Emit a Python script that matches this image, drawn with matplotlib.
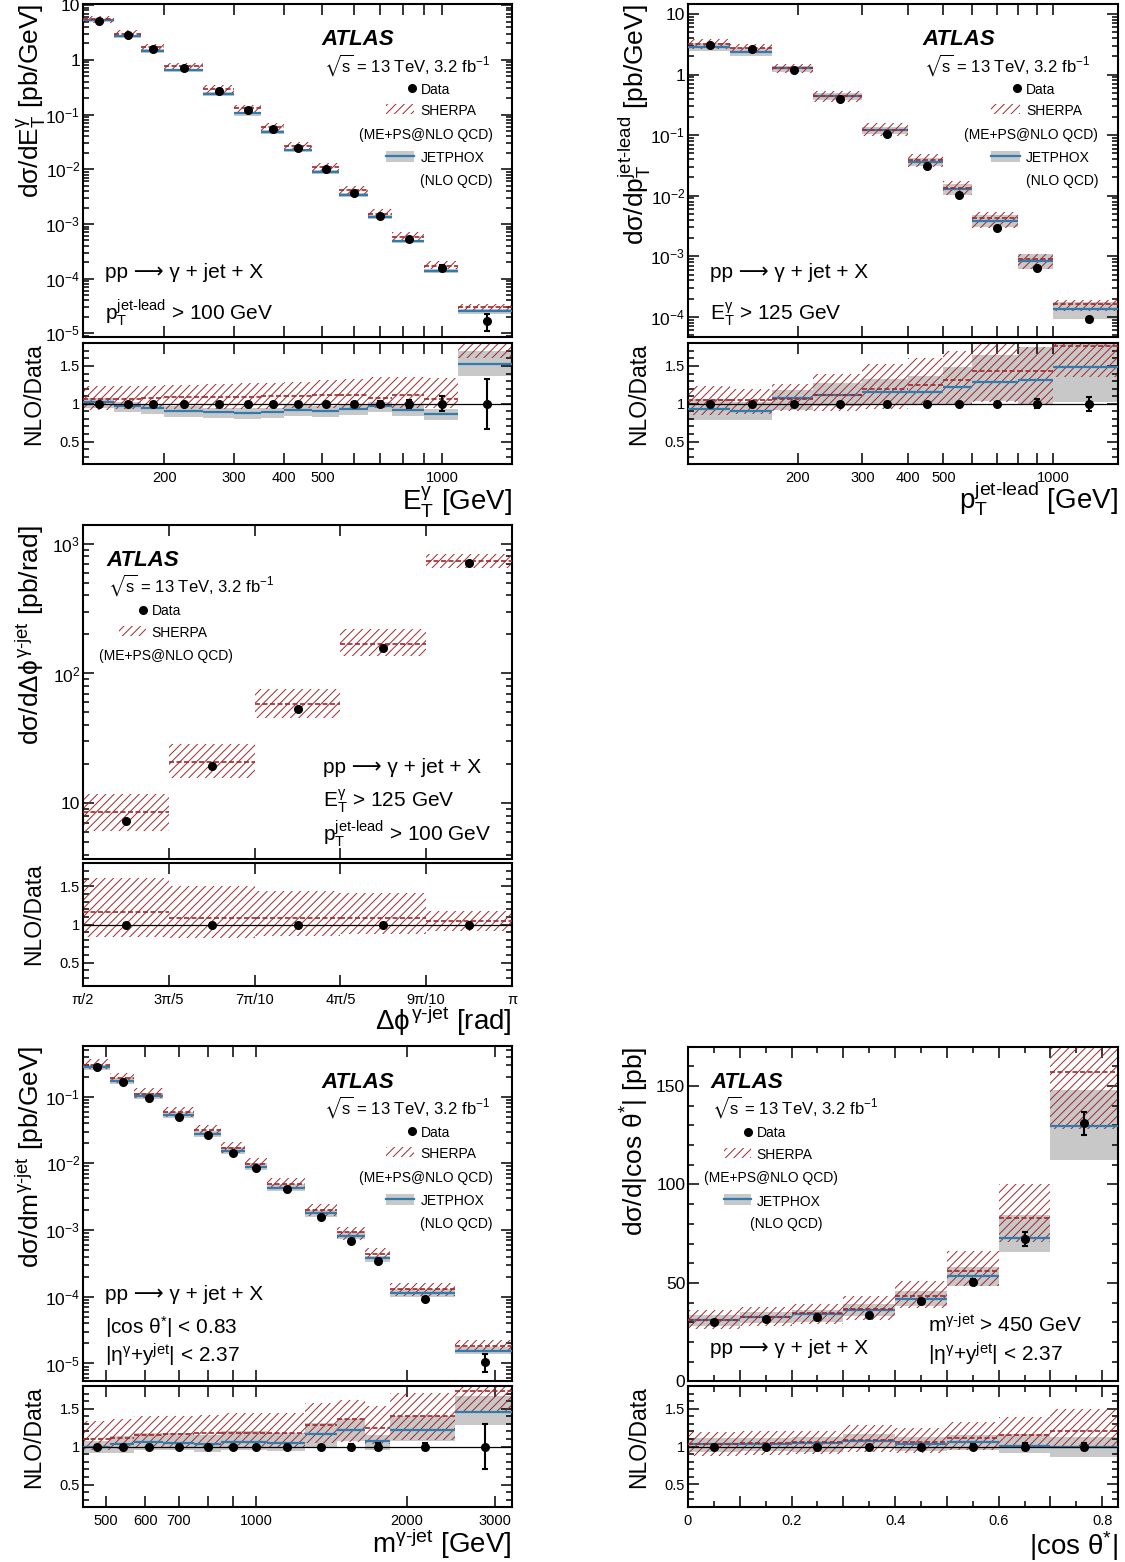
import numpy as np
import matplotlib
matplotlib.use("Agg")
import matplotlib.pyplot as plt
from matplotlib import ticker
from matplotlib.patches import Rectangle

plt.rcParams["font.family"] = ["Liberation Sans", "DejaVu Sans"]
plt.rcParams["mathtext.fontset"] = "custom"
plt.rcParams["mathtext.rm"] = "Liberation Sans"
plt.rcParams["mathtext.it"] = "Liberation Sans"
plt.rcParams["mathtext.sf"] = "Liberation Sans"
plt.rcParams["mathtext.bf"] = "Liberation Sans:bold"
plt.rcParams["mathtext.fallback"] = "stixsans"
plt.rcParams["hatch.linewidth"] = 0.7

RED = "#a3262a"
GREY = "#c8c8c8"
BLUE = "#2f7cb0"
HATCH = "////"

# ---- E_T^gamma ----
et_edges = [125, 150, 175, 200, 250, 300, 350, 400, 470, 550, 650, 750, 900, 1100, 1500]
et_data = [5.2, 2.8, 1.56, 0.71, 0.27, 0.119, 0.054, 0.0244, 0.0100, 0.0037, 0.00141, 0.00053, 0.000160, 1.67e-5]
et_err = [0.02, 0.02, 0.02, 0.02, 0.02, 0.02, 0.02, 0.02, 0.02, 0.03, 0.04, 0.05, 0.10, 0.33]
et_jp = [1.02, 0.97, 0.94, 0.91, 0.89, 0.88, 0.89, 0.92, 0.91, 0.93, 0.97, 0.92, 0.87, 1.53]
et_jp_lo = [0.94, 0.89, 0.86, 0.83, 0.81, 0.80, 0.81, 0.84, 0.83, 0.85, 0.89, 0.84, 0.79, 1.37]
et_jp_hi = [1.08, 1.03, 1.00, 0.97, 0.95, 0.94, 0.95, 0.98, 0.97, 0.99, 1.03, 0.98, 0.93, 1.70]
et_sh = [1.07, 1.07, 1.08, 1.09, 1.09, 1.09, 1.10, 1.10, 1.11, 1.11, 1.08, 1.11, 1.06, 1.85]
et_sh_lo = [0.92, 0.93, 0.93, 0.93, 0.93, 0.93, 0.93, 0.94, 0.94, 0.95, 0.95, 0.95, 0.94, 1.60]
et_sh_hi = [1.23, 1.23, 1.24, 1.25, 1.26, 1.27, 1.28, 1.29, 1.31, 1.33, 1.36, 1.35, 1.34, 2.10]

# ---- p_T^jet-lead ----
pt_edges = [100, 130, 170, 220, 300, 400, 500, 600, 800, 1000, 1500]
pt_data = [3.07, 2.64, 1.19, 0.39, 0.104, 0.0305, 0.0104, 0.00292, 0.00063, 9.1e-5]
pt_err = [0.02, 0.02, 0.02, 0.02, 0.02, 0.02, 0.03, 0.03, 0.06, 0.09]
pt_jp = [0.93, 0.90, 1.075, 1.12, 1.15, 1.16, 1.22, 1.29, 1.31, 1.49]
pt_jp_lo = [0.79, 0.78, 0.92, 0.97, 1.00, 1.00, 0.99, 1.04, 0.99, 1.02]
pt_jp_hi = [1.06, 1.02, 1.18, 1.28, 1.33, 1.37, 1.48, 1.64, 1.75, 1.95]
pt_sh = [1.05, 1.05, 1.07, 1.12, 1.19, 1.25, 1.31, 1.44, 1.44, 1.76]
pt_sh_lo = [0.85, 0.87, 0.90, 0.91, 0.93, 0.99, 1.00, 1.02, 0.99, 1.35]
pt_sh_hi = [1.24, 1.20, 1.26, 1.39, 1.52, 1.60, 1.70, 1.85, 1.75, 2.10]

# ---- delta phi ----
dphi_edges = [np.pi / 2, 3 * np.pi / 5, 7 * np.pi / 10, 4 * np.pi / 5, 9 * np.pi / 10, np.pi]
dphi_labels = ["π/2", "3π/5", "7π/10", "4π/5", "9π/10", "π"]
dphi_data = [7.3, 19.2, 53, 156, 707]
dphi_err = [0.02, 0.02, 0.02, 0.02, 0.02]
dphi_sh = [1.164, 1.09, 1.09, 1.09, 1.045]
dphi_sh_lo = [0.84, 0.82, 0.85, 0.87, 0.92]
dphi_sh_hi = [1.61, 1.50, 1.44, 1.41, 1.18]

# ---- m^gamma-jet ----
m_edges = [450, 510, 570, 650, 750, 850, 950, 1050, 1250, 1450, 1650, 1850, 2500, 3250]
m_data = [0.276, 0.168, 0.0967, 0.050, 0.0266, 0.0145, 0.0084, 0.0041, 0.00155, 0.00068, 0.00035, 9.3e-5, 1.06e-5]
m_err = [0.02, 0.02, 0.02, 0.02, 0.02, 0.02, 0.02, 0.02, 0.02, 0.04, 0.05, 0.05, 0.30]
m_jp = [1.00, 1.03, 1.06, 1.05, 1.035, 1.06, 1.06, 1.05, 1.17, 1.22, 1.075, 1.22, 1.455]
m_jp_lo = [0.92, 0.92, 0.95, 0.95, 0.93, 0.95, 0.95, 0.94, 1.00, 1.08, 0.96, 1.08, 1.29]
m_jp_hi = [1.07, 1.14, 1.18, 1.18, 1.16, 1.20, 1.20, 1.18, 1.31, 1.36, 1.16, 1.40, 1.67]
m_sh = [1.10, 1.12, 1.15, 1.17, 1.18, 1.18, 1.18, 1.18, 1.29, 1.36, 1.25, 1.40, 1.73]
m_sh_lo = [0.95, 0.97, 0.99, 1.00, 1.00, 1.00, 1.00, 1.00, 1.05, 1.06, 1.04, 1.09, 1.45]
m_sh_hi = [1.34, 1.36, 1.40, 1.40, 1.42, 1.45, 1.45, 1.45, 1.58, 1.62, 1.54, 1.71, 2.10]

# ---- |cos theta*| ----
cos_edges = [0, 0.1, 0.2, 0.3, 0.4, 0.5, 0.6, 0.7, 0.83]
cos_data = [30.3, 31.5, 32.5, 33.7, 40.8, 50.3, 72.1, 131.0]
cos_err = [0.02, 0.02, 0.02, 0.02, 0.02, 0.03, 0.05, 0.045]
cos_jp = [1.035, 1.035, 1.05, 1.075, 1.03, 1.06, 1.01, 0.99]
cos_jp_lo = [0.93, 0.94, 0.93, 0.98, 0.94, 0.96, 0.91, 0.86]
cos_jp_hi = [1.11, 1.11, 1.12, 1.17, 1.12, 1.15, 1.17, 1.13]
cos_sh = [1.03, 1.04, 1.065, 1.09, 1.065, 1.11, 1.15, 1.20]
cos_sh_lo = [0.88, 0.89, 0.90, 0.93, 0.91, 0.96, 0.98, 0.98]
cos_sh_hi = [1.19, 1.20, 1.21, 1.28, 1.25, 1.32, 1.39, 1.49]

PROCESS = "pp ⟶ γ + jet + X"

W, H = 1125, 1562
fig = plt.figure(figsize=(W / 100, H / 100), dpi=100)


def box(x0, y0, x1, y1):
    return fig.add_axes([x0 / W, 1 - y1 / H, (x1 - x0) / W, (y1 - y0) / H])


def style(ax):
    for sp in ax.spines.values():
        sp.set_linewidth(1.5)
    ax.tick_params(which="both", direction="in", top=True, right=True, width=1.1)
    ax.tick_params(which="major", length=8)
    ax.tick_params(which="minor", length=4)


def log_label(v, pos):
    e = int(round(np.log10(v)))
    if e == 0:
        return "1"
    if e == 1:
        return "10"
    return r"$10^{%d}$" % e


def panel(mbox, rbox, edges, data, err, sh, sh_lo, sh_hi, jp=None, jp_lo=None, jp_hi=None):
    edges = np.asarray(edges, float)
    left, right = edges[:-1], edges[1:]
    width = np.diff(edges)
    centers = 0.5 * (left + right)
    data = np.asarray(data, float)
    err = np.asarray(err, float)
    axm, axr = box(*mbox), box(*rbox)
    for ax, scale in ((axm, data), (axr, np.ones_like(data))):
        if jp is not None:
            lo, hi = np.asarray(jp_lo) * scale, np.asarray(jp_hi) * scale
            ax.bar(left, hi - lo, width, bottom=lo, align="edge", color=GREY, lw=0, zorder=1)
        lo, hi = np.asarray(sh_lo) * scale, np.asarray(sh_hi) * scale
        ax.bar(left, hi - lo, width, bottom=lo, align="edge", facecolor="none",
               edgecolor=RED, hatch=HATCH, lw=0, zorder=2)
        if jp is not None:
            ax.hlines(np.asarray(jp) * scale, left, right, color=BLUE, lw=1.6, zorder=3)
        ax.hlines(np.asarray(sh) * scale, left, right, color=RED, lw=1.2,
                  linestyles=(0, (3, 1.5)), zorder=3)
        if ax is axr:
            ax.axhline(1, color="k", lw=0.9, zorder=3.5)
        ax.errorbar(centers, scale, yerr=scale * err, fmt="o", color="k", ms=5.5,
                    elinewidth=1.5, capsize=2, capthick=1.5, zorder=4)
        ax.set_xlim(edges[0], edges[-1])
        style(ax)
    axr.set_ylim(0.2, 1.8)
    axr.yaxis.set_major_locator(ticker.MultipleLocator(0.5))
    axr.yaxis.set_minor_locator(ticker.MultipleLocator(0.1))
    axr.yaxis.set_major_formatter(ticker.FuncFormatter(lambda v, p: "%g" % v))
    axr.tick_params(axis="y", labelsize=10.5, pad=2)
    axr.tick_params(axis="x", labelsize=10.5, pad=5)
    axm.tick_params(axis="x", labelbottom=False)
    axm.tick_params(axis="y", labelsize=12.5, pad=2)
    axr.text(-0.10, 1.0, "NLO/Data", rotation=90, rotation_mode="anchor", ha="right",
             va="baseline", fontsize=16.5, transform=axr.transAxes)
    return axm, axr


def log_x(axes, ticks, labels):
    for ax in axes:
        ax.set_xscale("log")
        ax.xaxis.set_major_locator(ticker.FixedLocator(ticks))
        ax.xaxis.set_minor_locator(ticker.NullLocator())
        ax.xaxis.set_major_formatter(ticker.FixedFormatter(
            [str(t) if t in labels else "" for t in ticks]))


def log_y(ax, lo, hi):
    ax.set_yscale("log")
    ax.set_ylim(lo, hi)
    ax.yaxis.set_major_locator(ticker.LogLocator(base=10, numticks=20))
    ax.yaxis.set_minor_locator(ticker.LogLocator(base=10, subs=np.arange(2, 10), numticks=20))
    ax.yaxis.set_minor_formatter(ticker.NullFormatter())
    ax.yaxis.set_major_formatter(ticker.FuncFormatter(log_label))


def titles(axm, axr, ylab, xlab, xlab_y):
    axm.text(-0.103, 1.0, ylab, rotation=90, rotation_mode="anchor", ha="right",
             va="baseline", fontsize=19, transform=axm.transAxes)
    axr.text(1.0, xlab_y, xlab, ha="right", va="baseline", fontsize=20, transform=axr.transAxes)


def header(ax, x, y_atlas, y_lumi):
    ax.text(x, y_atlas, "ATLAS", fontsize=16, fontweight="bold", fontstyle="italic",
            transform=ax.transAxes, va="baseline")
    ax.text(x + 0.004, y_lumi, r"$\sqrt{\mathrm{s}}$ = 13 TeV, 3.2 fb$^{-1}$", fontsize=12,
            transform=ax.transAxes, va="baseline")


def legend_right(ax, with_jp=True):
    t = ax.transAxes
    ax.plot([0.766], [0.747], "o", color="k", ms=5.5, transform=t, clip_on=False)
    ax.text(0.787, 0.729, "Data", fontsize=10, transform=t, va="baseline")
    ax.add_patch(Rectangle((0.706, 0.670), 0.066, 0.030, transform=t, facecolor="none",
                           edgecolor=RED, hatch=HATCH, lw=0))
    ax.text(0.787, 0.667, "SHERPA", fontsize=10, transform=t, va="baseline")
    ax.text(0.955, 0.595, "(ME+PS@NLO QCD)", fontsize=10, transform=t, va="baseline", ha="right")
    if with_jp:
        ax.add_patch(Rectangle((0.706, 0.527), 0.066, 0.033, transform=t, color=GREY, lw=0))
        ax.plot([0.706, 0.772], [0.543, 0.543], color=BLUE, lw=1.6, transform=t)
        ax.text(0.787, 0.527, "JETPHOX", fontsize=10, transform=t, va="baseline")
        ax.text(0.955, 0.456, "(NLO QCD)", fontsize=10, transform=t, va="baseline", ha="right")


def legend_left(ax, with_jp=True):
    t = ax.transAxes
    ax.plot([0.140], [0.746], "o", color="k", ms=5.5, transform=t)
    ax.text(0.160, 0.730, "Data", fontsize=10, transform=t, va="baseline")
    ax.add_patch(Rectangle((0.083, 0.667), 0.063, 0.030, transform=t, facecolor="none",
                           edgecolor=RED, hatch=HATCH, lw=0))
    ax.text(0.160, 0.665, "SHERPA", fontsize=10, transform=t, va="baseline")
    ax.text(0.038, 0.596, "(ME+PS@NLO QCD)", fontsize=10, transform=t, va="baseline")
    if with_jp:
        ax.add_patch(Rectangle((0.083, 0.528), 0.063, 0.033, transform=t, color=GREY, lw=0))
        ax.plot([0.083, 0.146], [0.544, 0.544], color=BLUE, lw=1.6, transform=t)
        ax.text(0.160, 0.525, "JETPHOX", fontsize=10, transform=t, va="baseline")
        ax.text(0.145, 0.457, "(NLO QCD)", fontsize=10, transform=t, va="baseline")


def note(ax, x, y, s, size=15):
    ax.text(x, y, s, fontsize=size, transform=ax.transAxes, va="baseline")


LX0, LX1, RX0, RX1 = 83, 512, 688, 1117.7

# panel 1: E_T^gamma
a1, r1 = panel((LX0, 4, LX1, 337.3), (LX0, 343.3, LX1, 464.3), et_edges, et_data, et_err,
               et_sh, et_sh_lo, et_sh_hi, et_jp, et_jp_lo, et_jp_hi)
log_x((a1, r1), [200, 300, 400, 500, 600, 700, 800, 900, 1000], [200, 300, 400, 500, 1000])
log_y(a1, 8.5e-6, 10.5)
titles(a1, r1, r"d$\sigma$/d$\mathrm{E}_\mathrm{T}^{\gamma}$ [pb/GeV]",
       r"$\mathrm{E}_\mathrm{T}^{\gamma}$ [GeV]", -0.378)
header(a1, 0.557, 0.877, 0.797)
legend_right(a1)
note(a1, 0.051, 0.177, PROCESS)
note(a1, 0.051, 0.052, r"$\mathrm{p}_\mathrm{T}^\mathrm{jet\text{-}lead}$ > 100 GeV")

# panel 2: p_T^jet-lead
a2, r2 = panel((RX0, 4, RX1, 337.3), (RX0, 343.3, RX1, 464.3), pt_edges, pt_data, pt_err,
               pt_sh, pt_sh_lo, pt_sh_hi, pt_jp, pt_jp_lo, pt_jp_hi)
log_x((a2, r2), [200, 300, 400, 500, 600, 700, 800, 900, 1000], [200, 300, 400, 500, 1000])
log_y(a2, 4.6e-5, 14.6)
titles(a2, r2, r"d$\sigma$/d$\mathrm{p}_\mathrm{T}^\mathrm{jet\text{-}lead}$ [pb/GeV]",
       r"$\mathrm{p}_\mathrm{T}^\mathrm{jet\text{-}lead}$ [GeV]", -0.364)
header(a2, 0.545, 0.877, 0.797)
legend_right(a2)
note(a2, 0.051, 0.177, PROCESS)
note(a2, 0.051, 0.052, r"$\mathrm{E}_\mathrm{T}^{\gamma}$ > 125 GeV")

# panel 3: delta phi
a3, r3 = panel((LX0, 525, LX1, 859), (LX0, 863.3, LX1, 985.7), dphi_edges, dphi_data, dphi_err,
               dphi_sh, dphi_sh_lo, dphi_sh_hi)
for ax in (a3, r3):
    ax.xaxis.set_major_locator(ticker.FixedLocator(dphi_edges))
    ax.xaxis.set_major_formatter(ticker.FixedFormatter(dphi_labels))
log_y(a3, 3.7, 1400)
titles(a3, r3, r"d$\sigma$/d$\Delta\phi^\mathrm{\gamma\text{-}jet}$ [pb/rad]",
       r"$\Delta\phi^\mathrm{\gamma\text{-}jet}$ [rad]", -0.362)
header(a3, 0.054, 0.878, 0.800)
legend_left(a3, with_jp=False)
note(a3, 0.559, 0.257, PROCESS)
note(a3, 0.559, 0.155, r"$\mathrm{E}_\mathrm{T}^{\gamma}$ > 125 GeV")
note(a3, 0.559, 0.055, r"$\mathrm{p}_\mathrm{T}^\mathrm{jet\text{-}lead}$ > 100 GeV")

# panel 4: m^gamma-jet
a4, r4 = panel((LX0, 1046, LX1, 1381.3), (LX0, 1386, LX1, 1507.3), m_edges, m_data, m_err,
               m_sh, m_sh_lo, m_sh_hi, m_jp, m_jp_lo, m_jp_hi)
log_x((a4, r4), [500, 600, 700, 800, 900, 1000, 2000, 3000], [500, 600, 700, 1000, 2000, 3000])
log_y(a4, 5.4e-6, 0.577)
titles(a4, r4, r"d$\sigma$/d$\mathrm{m}^\mathrm{\gamma\text{-}jet}$ [pb/GeV]",
       r"$\mathrm{m}^\mathrm{\gamma\text{-}jet}$ [GeV]", -0.376)
header(a4, 0.557, 0.874, 0.797)
legend_right(a4)
note(a4, 0.051, 0.242, PROCESS)
note(a4, 0.051, 0.143, r"|cos θ$^{*}$| < 0.83")
note(a4, 0.051, 0.055, r"|$\mathrm{\eta}^{\gamma}$+$\mathrm{y}^\mathrm{jet}$| < 2.37")

# panel 5: |cos theta*|
a5, r5 = panel((RX0, 1046.7, RX1, 1381.3), (RX0, 1386, RX1, 1507), cos_edges, cos_data, cos_err,
               cos_sh, cos_sh_lo, cos_sh_hi, cos_jp, cos_jp_lo, cos_jp_hi)
for ax in (a5, r5):
    ax.xaxis.set_major_locator(ticker.MultipleLocator(0.1))
    ax.xaxis.set_minor_locator(ticker.MultipleLocator(0.05))
r5.xaxis.set_major_formatter(ticker.FuncFormatter(
    lambda v, p: ("%g" % round(v, 1)) if round(v * 10) % 2 == 0 else ""))
a5.set_ylim(0, 170)
a5.yaxis.set_major_locator(ticker.MultipleLocator(50))
a5.yaxis.set_minor_locator(ticker.MultipleLocator(10))
titles(a5, r5, r"d$\sigma$/d|cos θ$^{*}$| [pb]", r"|cos θ$^{*}$|", -0.397)
header(a5, 0.052, 0.876, 0.799)
legend_left(a5)
note(a5, 0.051, 0.082, PROCESS)
note(a5, 0.558, 0.147, r"$\mathrm{m}^\mathrm{\gamma\text{-}jet}$ > 450 GeV")
note(a5, 0.558, 0.058, r"|$\mathrm{\eta}^{\gamma}$+$\mathrm{y}^\mathrm{jet}$| < 2.37")

fig.savefig("out.png", dpi=100)
